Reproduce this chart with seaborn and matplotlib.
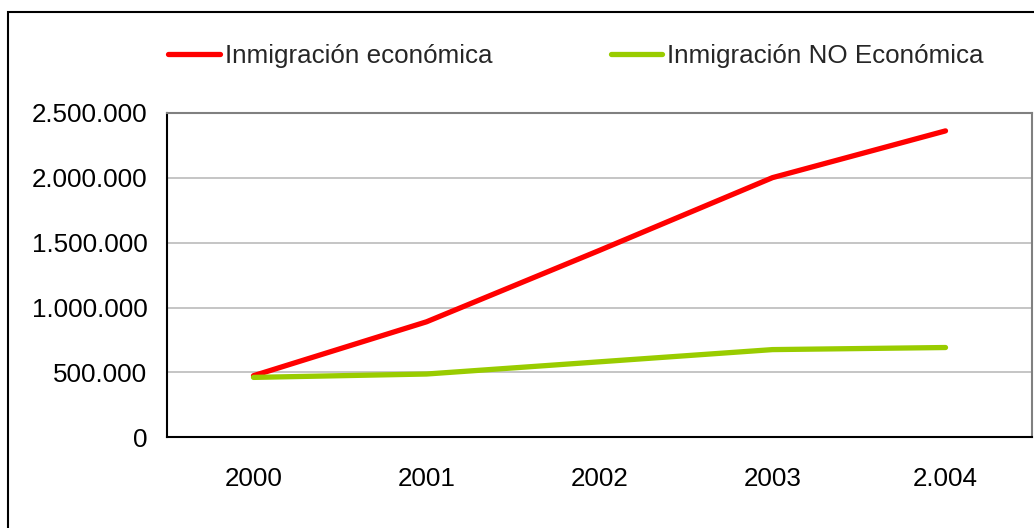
import matplotlib
matplotlib.use("Agg")
import matplotlib.pyplot as plt
from matplotlib.patches import Rectangle
from matplotlib.ticker import FuncFormatter, FixedLocator
import seaborn as sns
import pandas as pd

# Data
years = ["2000", "2001", "2002", "2003", "2.004"]
economica = [475000, 890000, 1440000, 2000000, 2360000]
no_economica = [462000, 488000, 582000, 676000, 692000]
series_names = ["Inmigración económica", "Inmigración NO Económica"]
series_colors = ["#FF0000", "#99CC00"]
y_ticks = [0, 500000, 1000000, 1500000, 2000000, 2500000]

df = pd.DataFrame({
    "pos": list(range(len(years))) * 2,
    "valor": economica + no_economica,
    "serie": [series_names[0]] * len(years) + [series_names[1]] * len(years),
})

sns.set_theme(style="white")
plt.rcParams["font.family"] = ["Liberation Sans", "DejaVu Sans"]
FS = 18.7

W, H, DPI = 1034, 528, 100
fig = plt.figure(figsize=(W / DPI, H / DPI), dpi=DPI)
fig.patch.set_facecolor("white")

# outer chart frame
fig.patches.append(Rectangle((8 / W, -0.05), 1.1, (H - 12) / H + 0.05,
                             transform=fig.transFigure, fill=False,
                             edgecolor="black", linewidth=1.5))

left, right = 167 / W, 1032 / W
bottom, top = (H - 437.4) / H, (H - 112.7) / H
ax = fig.add_axes([left, bottom, right - left, top - bottom])

sns.lineplot(data=df, x="pos", y="valor", hue="serie", hue_order=series_names,
             palette=dict(zip(series_names, series_colors)), linewidth=3.8,
             ax=ax, legend=True)
for ln in ax.get_lines():
    ln.set_solid_capstyle("round")
    ln.set_solid_joinstyle("round")

ax.set_xlim(-0.5, len(years) - 0.5)
ax.set_ylim(0, 2500000)
ax.set_xlabel("")
ax.set_ylabel("")

# category axis: labels at centres, tick marks between categories
ax.set_xticks(range(len(years)))
ax.set_xticklabels(years)
ax.xaxis.set_minor_locator(FixedLocator([i - 0.5 for i in range(len(years) + 1)]))
ax.tick_params(axis="x", which="major", length=0, pad=21, labelsize=FS, colors="black")
ax.tick_params(axis="x", which="minor", length=5.5, width=1.3, color="black", direction="out")

ax.set_yticks(y_ticks)
ax.yaxis.set_major_formatter(FuncFormatter(lambda v, p: f"{v:,.0f}".replace(",", ".")))
ax.tick_params(axis="y", which="major", length=5.5, width=1.3, color="black",
               direction="out", pad=8.5, labelsize=FS, labelcolor="black")

ax.grid(axis="y", color="#C0C0C0", linewidth=1.3)
ax.set_axisbelow(True)
for side in ["left", "bottom"]:
    ax.spines[side].set_color("black")
    ax.spines[side].set_linewidth(1.5)
for side in ["top", "right"]:
    ax.spines[side].set_color("#808080")
    ax.spines[side].set_linewidth(1.5)
for sp in ax.spines.values():
    sp.set_zorder(3)

handles, labels = ax.get_legend_handles_labels()
ax.legend(handles, labels, loc="center left", bbox_to_anchor=(168 / W, (H - 56) / H),
          bbox_transform=fig.transFigure, ncol=2, frameon=False, fontsize=FS,
          handlelength=2.0, handletextpad=0.19, columnspacing=4.55,
          borderaxespad=0, borderpad=0)
for lh in ax.get_legend().get_lines():
    lh.set_linewidth(3.8)
    lh.set_solid_capstyle("round")

fig.savefig("out.png", dpi=DPI, facecolor="white")
